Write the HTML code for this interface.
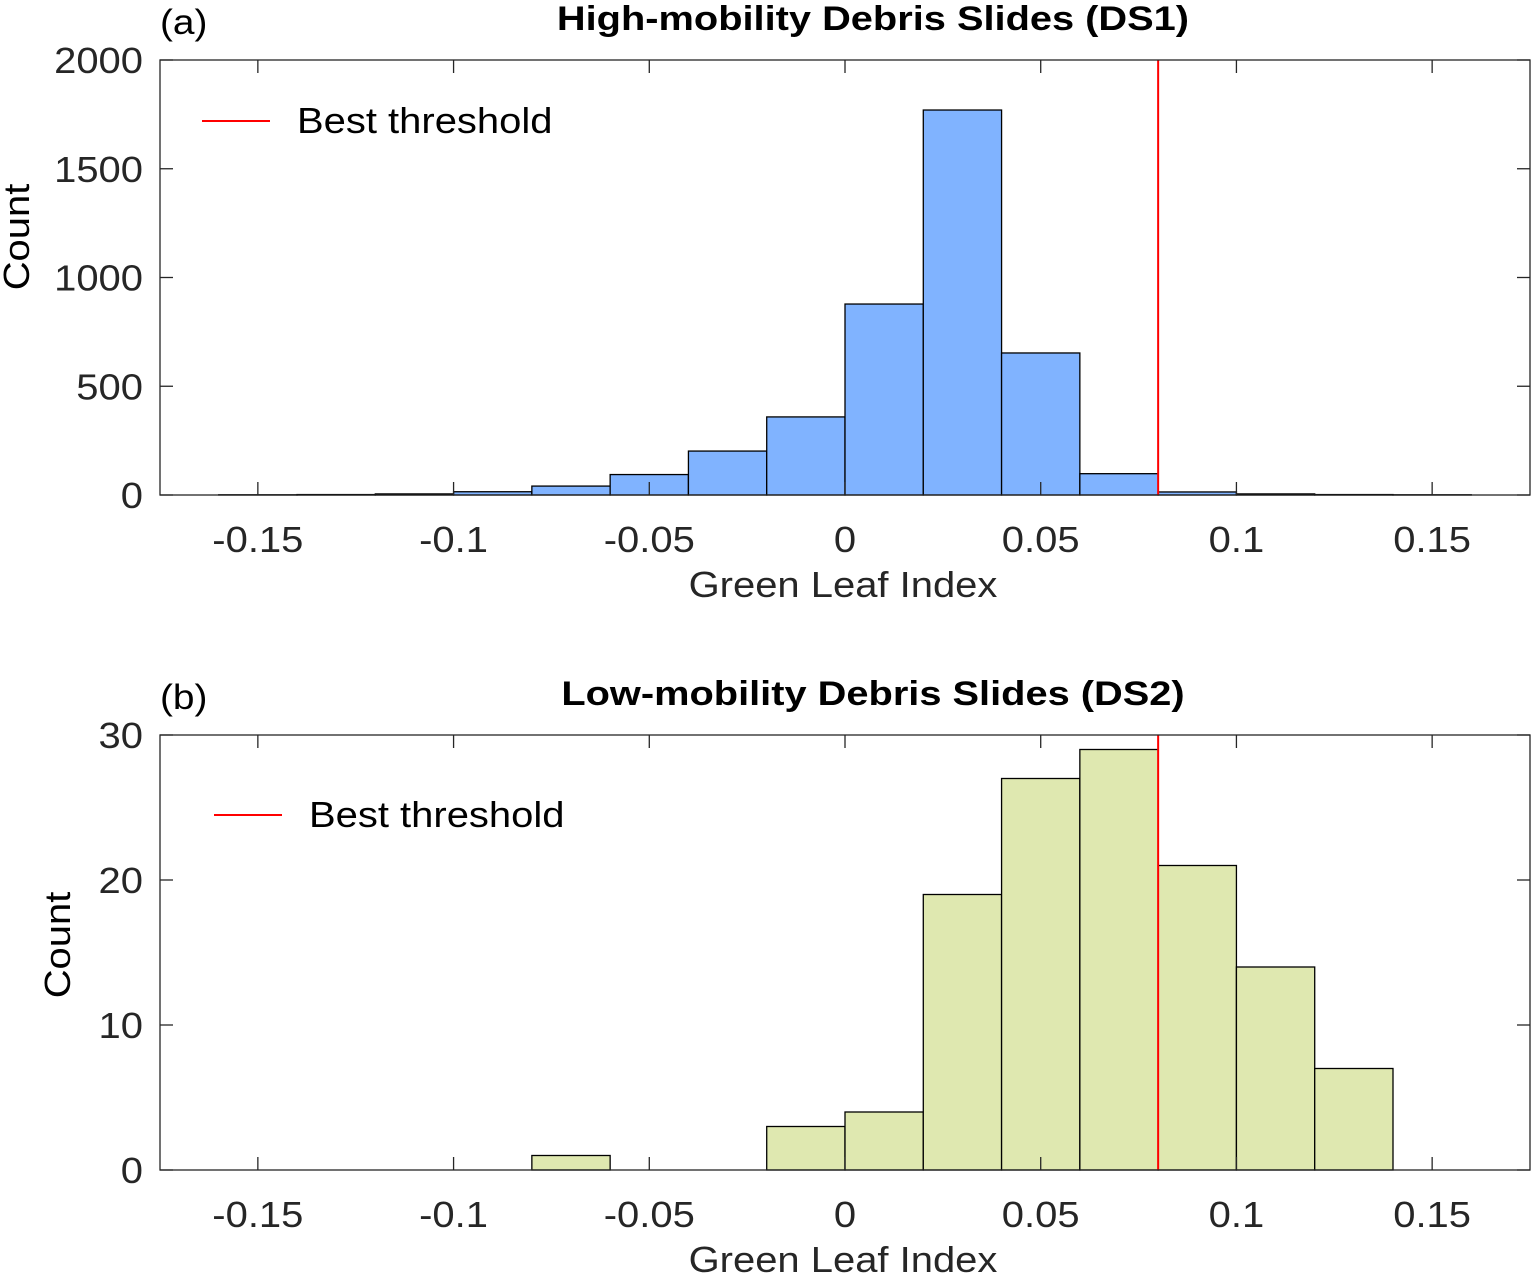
<!DOCTYPE html>
<html><head><meta charset="utf-8"><style>
body{margin:0;background:#fff}
svg{display:block;font-family:"Liberation Sans",Arial,sans-serif}
</style></head><body>
<svg id="c" width="1532" height="1285" xmlns="http://www.w3.org/2000/svg"></svg>
<script>
const binEdgesStart = -0.16;
const binWidth = 0.02;
const countsA = [1, 2, 5, 15, 41, 94, 202, 359, 878, 1770, 653, 98, 14, 5, 2, 1];
const countsB = [0, 0, 0, 0, 1, 0, 0, 3, 4, 19, 27, 29, 21, 14, 7, 0];
const xTicks = [-0.15, -0.1, -0.05, 0, 0.05, 0.1, 0.15];
const xTickLabels = ["-0.15", "-0.1", "-0.05", "0", "0.05", "0.1", "0.15"];
const yTicksA = [0, 500, 1000, 1500, 2000];
const yTicksB = [0, 10, 20, 30];
const threshold = 0.08;

const svg = document.getElementById('c');
const NS = 'http://www.w3.org/2000/svg';
function mk(tag, attrs, text, scale){
  const e = document.createElementNS(NS, tag);
  for (const k in attrs) e.setAttribute(k, attrs[k]);
  if (text !== undefined) e.textContent = text;
  svg.appendChild(e);
  if (tag === 'text') {
    const w = e.getComputedTextLength();
    if (w > 0) { e.setAttribute('textLength', w * (scale || 1.11)); e.setAttribute('lengthAdjust', 'spacingAndGlyphs'); }
  }
  return e;
}
const L = 160, R = 1530, xmin = -0.175, xmax = 0.175;
const sx = v => L + (v - xmin) / (xmax - xmin) * (R - L);

function panel(p){
  const sy = v => p.bot - v / p.ymax * (p.bot - p.top);
  p.counts.forEach((c, i) => {
    const x0 = sx(binEdgesStart + i * binWidth), x1 = sx(binEdgesStart + (i + 1) * binWidth);
    const r = mk('rect', {x: x0, y: sy(c), width: x1 - x0, height: Math.max(0, p.bot - sy(c)), fill: p.fill, stroke: '#000', 'stroke-width': 1.3});
    
    
  });
  const t = mk('line', {x1: sx(threshold), x2: sx(threshold), y1: p.top, y2: p.bot, stroke: '#ff0000', 'stroke-width': 2});
  
  
  const b = mk('rect', {x: L, y: p.top, width: R - L, height: p.bot - p.top, fill: 'none', stroke: '#262626', 'stroke-width': 1.3});
  
  
  xTicks.forEach((v, i) => {
    const x = sx(v);
    mk('line', {x1: x, x2: x, y1: p.bot, y2: p.bot - 13, stroke: '#262626', 'stroke-width': 1.3});
    mk('line', {x1: x, x2: x, y1: p.top, y2: p.top + 13, stroke: '#262626', 'stroke-width': 1.3});
    const tl = mk('text', {x: x, y: p.bot + 57, 'text-anchor': 'middle', 'font-size': 36, fill: '#262626'}, xTickLabels[i]);
    
    
  });
  p.yTicks.forEach(v => {
    const y = sy(v);
    mk('line', {x1: L, x2: L + 13, y1: y, y2: y, stroke: '#262626', 'stroke-width': 1.3});
    mk('line', {x1: R, x2: R - 13, y1: y, y2: y, stroke: '#262626', 'stroke-width': 1.3});
    const tl = mk('text', {x: 143, y: y + 13, 'text-anchor': 'end', 'font-size': 36, fill: '#262626'}, String(v));
    
    
  });
  const xt = mk('text', {x: 843, y: p.bot + 102, 'text-anchor': 'middle', 'font-size': 36, fill: '#262626'}, 'Green Leaf Index');
  
  
  const yt = mk('text', {x: 0, y: 0, 'text-anchor': 'middle', 'font-size': 36, fill: '#000', transform: 'translate(' + p.ytx + ',' + p.yty + ') rotate(-90)'}, 'Count');
  
  
  const ti = mk('text', {x: 873, y: p.top - 30, 'text-anchor': 'middle', 'font-size': 34, 'font-weight': 'bold', fill: '#000'}, p.title, 1.17);
  
  
  const lab = mk('text', {x: 160, y: p.top - 26, 'font-size': 35, fill: '#000'}, p.label);
  
  
  const ll = mk('line', {x1: p.legX, x2: p.legX + 68, y1: p.legY, y2: p.legY, stroke: '#ff0000', 'stroke-width': 2});
  
  
  const lt = mk('text', {x: p.legX + 95, y: p.legY + 12, 'font-size': 36, fill: '#000'}, 'Best threshold');
  
  
}
panel({id: 'panel-a', top: 60, bot: 495, ymax: 2000, counts: countsA, yTicks: yTicksA, fill: '#80b3ff', title: 'High-mobility Debris Slides (DS1)', label: '(a)', ytx: 29, yty: 237, legX: 202, legY: 121});
panel({id: 'panel-b', top: 735, bot: 1170, ymax: 30, counts: countsB, yTicks: yTicksB, fill: '#dfe8b0', title: 'Low-mobility Debris Slides (DS2)', label: '(b)', ytx: 70, yty: 945, legX: 214, legY: 815});
</script>
</body></html>
